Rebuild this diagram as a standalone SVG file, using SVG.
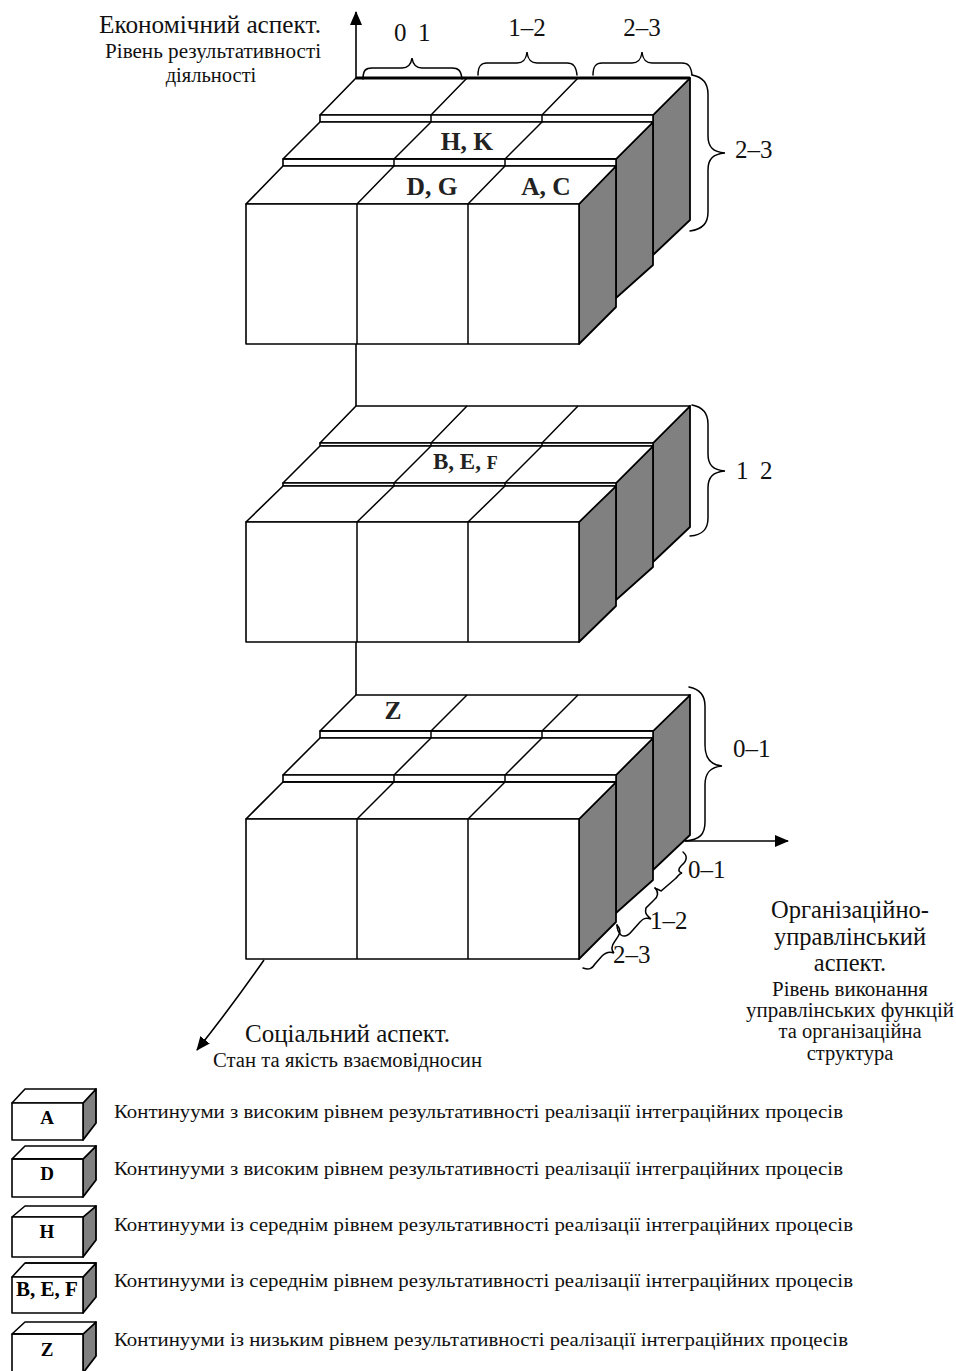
<svg xmlns="http://www.w3.org/2000/svg" width="956" height="1371" viewBox="0 0 956 1371">
<style>
.t{fill:#fff;stroke:#000;stroke-width:1.6;stroke-linejoin:round}
.s{fill:#808080;stroke:#000;stroke-width:1.8;stroke-linejoin:round}
.d{fill:none;stroke:#000;stroke-width:1.5}
.k{fill:none;stroke:#000;stroke-width:3}
.c{fill:none;stroke:#000;stroke-width:1.6}
.b{fill:none;stroke:#000;stroke-width:1.5;stroke-linecap:round}
text{font-family:"Liberation Serif","Times New Roman",serif;fill:#111}
.h{font-size:24.5px}
.m{font-size:20.5px}
.n{font-size:25px}
.l{font-weight:bold;font-size:25.5px;fill:#222}
.g{font-weight:bold;font-size:19px;text-anchor:middle;fill:#000}
.e{font-size:19px}
.a{text-anchor:middle}
</style>
<defs>
<marker id="ah" markerWidth="14" markerHeight="12" refX="13" refY="6" orient="auto" markerUnits="userSpaceOnUse"><path d="M0,0L14,6L0,12Z" fill="#000"/></marker>
</defs>
<rect width="956" height="1371" fill="#fff"/>

<g id="connectors">
<path class="c" marker-end="url(#ah)" d="M356,78V12"/>
<path class="c" d="M356,344V406"/>
<path class="c" d="M356,642V695"/>
<path class="c" marker-end="url(#ah)" d="M685,841H788"/>
<path class="c" marker-end="url(#ah)" d="M264,960Q232,1006 197,1050"/>
</g>

<g id="block-top">
<polygon class="s" points="653,115 690,78 690,220 653,255"/>
<polygon class="s" points="616,159 653,122 653,265 616,298"/>
<polygon class="s" points="579,204 616,166 616,307 579,344"/>
<polygon class="t" points="356,78 690,78 653,115 320,115"/>
<rect class="t" x="320" y="115" width="333" height="7"/>
<polygon class="t" points="320,122 653,122 616,159 283,159"/>
<rect class="t" x="283" y="159" width="333" height="7"/>
<polygon class="t" points="283,166 616,166 579,204 246,204"/>
<rect class="t" x="246" y="204" width="333" height="140" stroke-width="2"/>
<path class="d" d="M357,204V344M468,204V344M357,204L394,166V159L431,122V115L467,78M468,204L505,166V159L542,122V115L578,78"/>
<path class="k" d="M356,78H690"/>
<path class="d" stroke-width="2.5" d="M283,159H616"/>
<text class="l a" x="467" y="150">H, K</text>
<text class="l a" x="432" y="195">D, G</text>
<text class="l a" x="546" y="195">A, C</text>
</g>

<g id="block-middle">
<polygon class="s" points="653,443 690,406 690,527 653,562"/>
<polygon class="s" points="616,483 653,446 653,567 616,600"/>
<polygon class="s" points="579,522 616,486 616,606 579,642"/>
<polygon class="t" points="356,406 690,406 653,443 320,443"/>
<rect class="t" x="320" y="443" width="333" height="3"/>
<polygon class="t" points="320,446 653,446 616,483 283,483"/>
<rect class="t" x="283" y="483" width="333" height="3"/>
<polygon class="t" points="283,486 616,486 579,522 246,522"/>
<rect class="t" x="246" y="522" width="333" height="120" stroke-width="2"/>
<path class="d" d="M357,522V642M468,522V642M357,522L394,486V483L431,446V443L467,406M468,522L505,486V483L542,446V443L578,406"/>
<text class="l" x="433" y="469" style="font-size:23px">B, E, <tspan style="font-size:18px">F</tspan></text>
</g>

<g id="block-bottom">
<polygon class="s" points="653,731 690,695 690,835 653,870"/>
<polygon class="s" points="616,775 653,738 653,880 616,913"/>
<polygon class="s" points="579,819 616,782 616,922 579,959"/>
<polygon class="t" points="356,695 690,695 653,731 320,731"/>
<rect class="t" x="320" y="731" width="333" height="7"/>
<polygon class="t" points="320,738 653,738 616,775 283,775"/>
<rect class="t" x="283" y="775" width="333" height="7"/>
<polygon class="t" points="283,782 616,782 579,819 246,819"/>
<rect class="t" x="246" y="819" width="333" height="140" stroke-width="2"/>
<path class="d" d="M357,819V959M468,819V959M357,819L394,782V775L431,738V731L467,695M468,819L505,782V775L542,738V731L578,695"/>
<path class="d" stroke-width="2.5" d="M320,731H653M283,782H616"/>
<text class="l a" x="393" y="719">Z</text>
</g>

<g id="braces">
<path class="b" d="M363,79C363,70 366,68 372,68H402C408,68 411,65 412,58C413,65 416,68 422,68H452C458,68 461,70 462,79"/>
<path class="b" d="M478,75C478,66 481,63 487,63H517C523,63 526,60 527,52C528,60 531,63 537,63H567C573,63 576,66 577,75"/>
<path class="b" d="M593,75C593,66 596,63 602,63H632C638,63 641,60 642,52C643,60 646,63 652,63H682C688,63 691,66 692,75"/>
<path class="b" d="M692,75C703,77 708,83 708,94V136C708,147 713,152 725,153C713,154 708,159 708,170V212C708,223 703,229 690,231"/>
<path class="b" d="M692,405C703,407 708,413 708,424V454C708,465 713,470 725,471C713,472 708,477 708,488V518C708,529 703,535 690,536"/>
<path class="b" d="M689,687C699,689 705,695 705,706V745C705,757 710,765 722,766C710,767 705,773 705,785V822C705,834 700,840 685,841"/>
<path class="b" d="M683,852C688,856 687,861 681,866C678,869 678,872 682,873C678,874 678,877 675,879L661,891C658,889 656,889 655,888"/>
<path class="b" d="M655,888C659,892 658,897 654,900L646,908C645,912 645,914 651,919C645,917 643,919 640,922L632,931C628,936 624,937 621,935C619,933 617,929 617,925"/>
<path class="b" d="M617,925C622,931 620,934 615,941C612,945 610,949 614,953C609,951 605,953 602,956L595,964C592,969 589,970 583,968"/>
</g>

<g id="labels">
<text class="h" x="99" y="33" textLength="222" lengthAdjust="spacingAndGlyphs">Економічний аспект.</text>
<text class="m" x="105" y="58" textLength="216" lengthAdjust="spacingAndGlyphs">Рівень результативності</text>
<text class="m a" x="211" y="82">діяльності</text>
<text class="n" y="41"><tspan x="394">0</tspan><tspan x="418">1</tspan></text>
<text class="n a" x="527" y="36">1–2</text>
<text class="n a" x="642" y="36">2–3</text>
<text class="n" x="735" y="158">2–3</text>
<text class="n" y="479"><tspan x="736">1</tspan><tspan x="760">2</tspan></text>
<text class="n" x="733" y="757">0–1</text>
<text class="n" x="688" y="878">0–1</text>
<text class="n" x="650" y="929">1–2</text>
<text class="n" x="613" y="963">2–3</text>
<text class="h a" x="850" y="918">Організаційно-</text>
<text class="h a" x="850" y="945">управлінський</text>
<text class="h a" x="850" y="971">аспект.</text>
<text class="m a" x="850" y="996" textLength="156" lengthAdjust="spacingAndGlyphs">Рівень виконання</text>
<text class="m a" x="850" y="1017" textLength="208" lengthAdjust="spacingAndGlyphs">управлінських функцій</text>
<text class="m a" x="850" y="1038">та організаційна</text>
<text class="m a" x="850" y="1060">структура</text>
<text class="h" x="245" y="1042" textLength="205" lengthAdjust="spacingAndGlyphs">Соціальний аспект.</text>
<text class="m" x="213" y="1067" textLength="269" lengthAdjust="spacingAndGlyphs">Стан та якість взаємовідносин</text>
</g>

<g id="legend-a">
<polygon class="s" points="83,1103 96,1089 96,1123 83,1140"/>
<polygon class="t" points="25,1089 96,1089 83,1103 12,1103"/>
<rect class="t" x="12" y="1103" width="71" height="37"/>
<text class="g" x="47" y="1124">A</text>
<text class="e" x="114" y="1118" textLength="729" lengthAdjust="spacingAndGlyphs">Континууми з високим рівнем результативності реалізації інтеграційних процесів</text>
</g>
<g id="legend-d">
<polygon class="s" points="83,1159 96,1146 96,1180 83,1197"/>
<polygon class="t" points="25,1146 96,1146 83,1159 12,1159"/>
<rect class="t" x="12" y="1159" width="71" height="38"/>
<path class="d" stroke-width="2.5" d="M12,1159H83"/>
<text class="g" x="47" y="1180">D</text>
<text class="e" x="114" y="1175" textLength="729" lengthAdjust="spacingAndGlyphs">Континууми з високим рівнем результативності реалізації інтеграційних процесів</text>
</g>
<g id="legend-h">
<polygon class="s" points="83,1217 96,1206 96,1240 83,1257"/>
<polygon class="t" points="25,1206 96,1206 83,1217 12,1217"/>
<rect class="t" x="12" y="1217" width="71" height="40"/>
<text class="g" x="47" y="1238">H</text>
<text class="e" x="114" y="1231" textLength="739" lengthAdjust="spacingAndGlyphs">Континууми із середнім рівнем результативності реалізації інтеграційних процесів</text>
</g>
<g id="legend-bef">
<polygon class="s" points="83,1277 96,1263 96,1297 83,1313"/>
<polygon class="t" points="25,1263 96,1263 83,1277 12,1277"/>
<rect class="t" x="12" y="1277" width="71" height="36"/>
<path class="d" stroke-width="3" d="M25,1263H96"/>
<text class="g" x="47" y="1296" style="font-size:21px">B, E, F</text>
<text class="e" x="114" y="1287" textLength="739" lengthAdjust="spacingAndGlyphs">Континууми із середнім рівнем результативності реалізації інтеграційних процесів</text>
</g>
<g id="legend-z">
<polygon class="s" points="83,1334 96,1322 96,1356 83,1373"/>
<polygon class="t" points="25,1322 96,1322 83,1334 12,1334"/>
<rect class="t" x="12" y="1334" width="71" height="40"/>
<path class="d" stroke-width="2.5" d="M12,1334H83"/>
<text class="g" x="47" y="1356">Z</text>
<text class="e" x="114" y="1346" textLength="734" lengthAdjust="spacingAndGlyphs">Континууми із низьким рівнем результативності реалізації інтеграційних процесів</text>
</g>
</svg>
